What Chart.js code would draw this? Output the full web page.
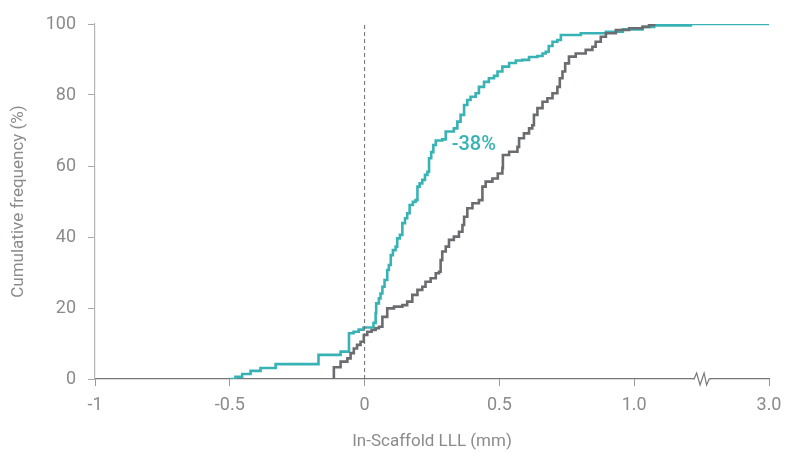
<!DOCTYPE html>
<html>
<head>
<meta charset="utf-8">
<script src="https://cdn.jsdelivr.net/npm/chart.js@4/dist/chart.umd.min.js"></script>
<style>
  html, body { margin: 0; padding: 0; background: #fff; }
  #wrap { width: 785px; height: 453px; }
</style>
</head>
<body>
<div id="wrap"><canvas id="cdf"></canvas></div>
<script>
// x ticks: -1 .. 1.0 linear, then axis break, last tick reads 3.0
const xTickLabels = ["-1", "-0.5", "0", "0.5", "1.0", "3.0"];
const yTicks = [0, 20, 40, 60, 80, 100];

// teal curve (x in mm, cumulative %)
const tealX = [-0.497, -0.479, -0.454, -0.423, -0.386, -0.330, -0.171, -0.089, -0.058, -0.041,
  -0.022, -0.004, 0.033, 0.041, 0.043, 0.053, 0.059, 0.066, 0.074, 0.084,
  0.090, 0.097, 0.105, 0.115, 0.121, 0.131, 0.140, 0.150, 0.158, 0.167,
  0.179, 0.189, 0.196, 0.204, 0.214, 0.224, 0.233, 0.239, 0.247, 0.255,
  0.264, 0.288, 0.301, 0.331, 0.344, 0.356, 0.369, 0.381, 0.393, 0.412,
  0.424, 0.443, 0.461, 0.480, 0.493, 0.511, 0.536, 0.561, 0.585, 0.610,
  0.641, 0.660, 0.672, 0.683, 0.697, 0.715, 0.728, 0.802, 0.895, 0.958,
  1.031, 1.074, 1.210, 1.5];
const tealY = [0, 0.6, 1.4, 2.3, 3.1, 4.2, 6.8, 7.7, 12.9, 13.3,
  13.9, 14.5, 15.8, 18.6, 21.3, 22.7, 24.1, 26.0, 27.9, 30.7,
  32.1, 34.9, 36.3, 37.3, 39.6, 40.6, 43.9, 45.3, 46.7, 49.0,
  49.9, 50.4, 54.2, 55.1, 56.1, 57.5, 58.4, 62.2, 63.9, 65.9,
  67.2, 67.5, 69.7, 70.6, 72.5, 74.4, 77.2, 78.6, 79.5, 80.5,
  82.3, 83.7, 84.7, 85.4, 86.6, 88.0, 89.0, 89.7, 89.9, 90.7,
  91.0, 91.7, 92.2, 93.8, 95.0, 95.5, 96.9, 97.4, 97.8, 98.5,
  99.2, 99.6, 100, 100];

// grey curve
const greyX = [-0.114, -0.114, -0.089, -0.064, -0.052, -0.040, -0.028, -0.015, -0.003, 0.010,
  0.026, 0.041, 0.053, 0.066, 0.084, 0.109, 0.140, 0.158, 0.177, 0.196,
  0.214, 0.226, 0.245, 0.264, 0.276, 0.282, 0.288, 0.301, 0.313, 0.331,
  0.350, 0.363, 0.369, 0.381, 0.400, 0.424, 0.437, 0.449, 0.474, 0.494,
  0.511, 0.513, 0.536, 0.567, 0.573, 0.591, 0.610, 0.622, 0.628, 0.641,
  0.660, 0.678, 0.697, 0.715, 0.724, 0.734, 0.744, 0.758, 0.783, 0.820,
  0.845, 0.857, 0.876, 0.895, 0.932, 0.981, 1.031, 1.055, 1.074];
const greyY = [0, 3.3, 4.9, 5.8, 7.3, 8.6, 9.6, 10.5, 12.4, 13.3,
  13.8, 14.3, 14.7, 17.5, 19.9, 20.4, 20.8, 21.8, 23.7, 25.1,
  26.0, 27.4, 28.4, 29.8, 30.2, 33.5, 35.9, 37.3, 39.2, 40.1,
  41.5, 43.4, 45.7, 48.1, 49.5, 50.4, 54.2, 55.6, 56.5, 57.9,
  59.4, 63.1, 64.0, 65.4, 67.8, 69.2, 70.6, 71.5, 74.4, 76.3,
  78.1, 79.1, 80.5, 82.3, 84.7, 86.6, 88.9, 90.8, 91.7, 92.7,
  93.6, 95.0, 96.4, 97.4, 98.3, 98.8, 99.2, 99.7, 100];

const refLineX = [0, 0];
const refLineY = [0, 100];

const label = { text: "-38%", x: 0.405, y: 65.9 };
const breakAt = 1.25;

const teal = "#38b3b5";
const grey = "#6b6c6f";
const tickGrey = "#8a8b8d";
const fontFamily = "Roboto";

function pts(xs, ys) {
  return xs.map((x, i) => ({ x: x, y: ys[i] }));
}

// "-38%" text and the zigzag break on the x axis
const extras = {
  id: "extras",
  afterDatasetsDraw(chart) {
    let ctx = chart.ctx;
    let xs = chart.scales.x;
    let ys = chart.scales.y;
    ctx.save();
    ctx.fillStyle = teal;
    ctx.font = "500 20px " + fontFamily;
    ctx.textAlign = "center";
    ctx.textBaseline = "middle";
    ctx.fillText(label.text, xs.getPixelForValue(label.x), ys.getPixelForValue(label.y));

    let bx = xs.getPixelForValue(breakAt);
    let by = ys.getPixelForValue(0);
    ctx.fillStyle = "#fff";
    ctx.fillRect(bx - 8, by - 2, 16, 4);
    ctx.strokeStyle = "#777";
    ctx.lineWidth = 1.2;
    ctx.beginPath();
    ctx.moveTo(bx - 9, by);
    ctx.lineTo(bx - 7.5, by);
    ctx.lineTo(bx - 5, by - 6);
    ctx.lineTo(bx - 1.5, by + 6);
    ctx.lineTo(bx + 2.5, by - 6);
    ctx.lineTo(bx + 5, by + 6);
    ctx.lineTo(bx + 7.5, by);
    ctx.lineTo(bx + 9, by);
    ctx.stroke();
    ctx.restore();
  },
};

let chart = new Chart(document.getElementById("cdf").getContext("2d"), {
  type: "line",
  data: {
    datasets: [
      {
        label: "ref",
        data: pts(refLineX, refLineY),
        borderColor: "#6d6e71",
        borderWidth: 1,
        borderDash: [4, 3],
        pointRadius: 0,
      },
      {
        label: "grey",
        data: pts(greyX, greyY),
        borderColor: grey,
        borderWidth: 2.6,
        stepped: "before",
        pointRadius: 0,
      },
      {
        label: "teal",
        data: pts(tealX, tealY),
        borderColor: teal,
        borderWidth: 2.6,
        stepped: "before",
        pointRadius: 0,
      },
    ],
  },
  options: {
    responsive: true,
    maintainAspectRatio: false,
    animation: false,
    layout: { padding: { top: 24, right: 16, left: 0, bottom: 0 } },
    plugins: { legend: { display: false }, tooltip: { enabled: false } },
    scales: {
      x: {
        type: "linear",
        min: -1,
        max: 1.5,
        afterBuildTicks(axis) {
          axis.ticks = xTickLabels.map((t, i) => ({ value: -1 + i * 0.5 }));
        },
        afterFit(axis) {
          axis.height = 74;
          axis.paddingLeft = 0;
          axis.paddingRight = 0;
        },
        grid: { drawOnChartArea: false, drawTicks: true, tickLength: 7, tickColor: "#999" },
        border: { color: "#777", width: 1.2 },
        ticks: {
          color: tickGrey,
          font: { family: fontFamily, size: 18 },
          padding: 9,
          maxRotation: 0,
          callback: (v, i) => xTickLabels[i],
        },
        title: {
          display: true,
          text: "In-Scaffold LLL (mm)",
          color: tickGrey,
          font: { family: fontFamily, size: 17 },
          padding: { top: 8, bottom: 1 },
        },
      },
      y: {
        min: 0,
        max: 100,
        afterBuildTicks(axis) {
          axis.ticks = yTicks.map((v) => ({ value: v }));
        },
        afterFit(axis) {
          axis.width = 95;
          axis.paddingTop = 0;
          axis.paddingBottom = 0;
        },
        grid: { drawOnChartArea: false, drawTicks: true, tickLength: 7, tickColor: "#aaa" },
        border: { color: "#b5b5b5", width: 1.2 },
        ticks: {
          color: tickGrey,
          font: { family: fontFamily, size: 18 },
          padding: 12,
        },
        title: {
          display: true,
          text: "Cumulative frequency (%)",
          color: tickGrey,
          font: { family: fontFamily, size: 17 },
          padding: { top: 9, bottom: 2 },
        },
      },
    },
  },
  plugins: [extras],
});
</script>
</body>
</html>
